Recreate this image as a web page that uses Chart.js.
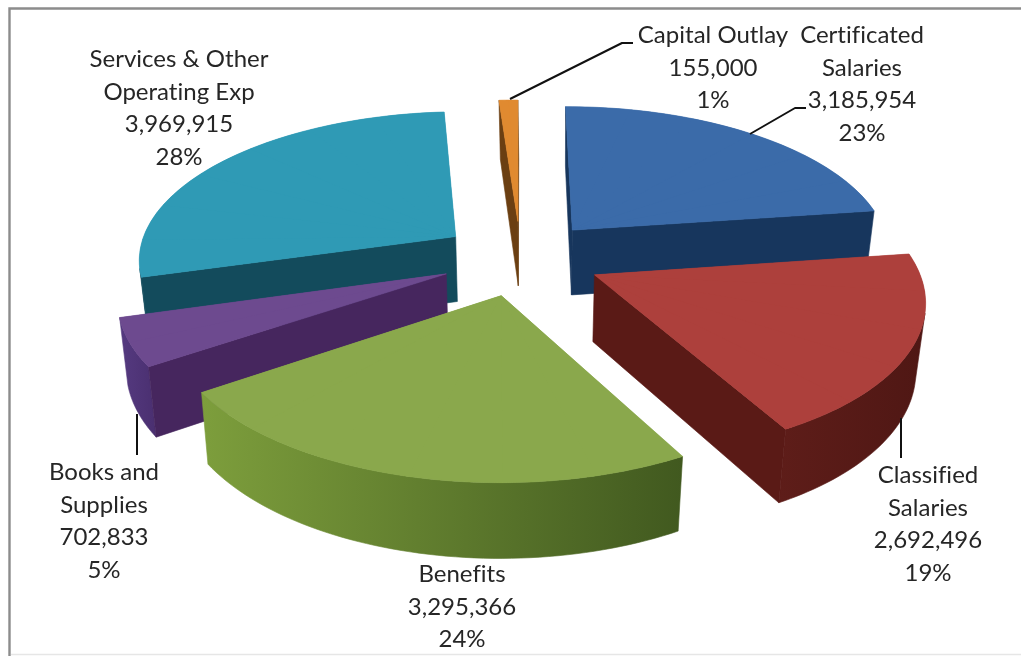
<!DOCTYPE html>
<html><head><meta charset="utf-8">
<style>html,body{margin:0;padding:0;background:#fff}canvas{display:block}</style>
<script src="https://cdn.jsdelivr.net/npm/chart.js@4/dist/chart.umd.js"></script>
</head><body><canvas id="c" width="1021" height="656"></canvas>
<script>
// ---- data ----
const categories = ['Certificated|Salaries','Classified|Salaries','Benefits','Books and|Supplies','Services & Other|Operating Exp','Capital Outlay'];
const values = [3185954,2692496,3295366,702833,3969915,155000];
// ---- style ----
const topColors = ['#3b6ba9','#ad403c','#8aa84c','#6d4a8f','#2f9ab5','#e08a30'];
const cutColors = ['#17365d','#5a1a16','#4c6a24','#46265e','#134b5c','#6b3f12'];
const rimStops = [['#17365d','#17365d'],['#5e1d19','#4f1714'],['#7d9e3c','#41591f'],['#553a80','#4a2f70'],['#134b5c','#134b5c'],['#6b3f12','#6b3f12']];
const drawOrder = [5,4,0,3,1,2];
// ---- camera: plane -> screen homographies of the top and bottom faces, explosion ----
const topView = [318.2677,-73.901,520.7073,-0.3444,111.5582,257.7336,-0.0023,-0.1428];
const botView = [311.7593,-74.519,520.8804,0.4067,108.7132,323.6536,-0.001,-0.1427];
const explode = 0.2535;
const wedgeSteps = 8;
// ---- annotation layout ----
const labelCenters = [[862,43],[928,483],[462,582],[104,480],[179,67],[713,43]];
const lineGap = 32.7;
const leaders = [[[750,134],[795,108],[806,108]],[[901,418],[901,458]],[],[[137,414],[137,455]],[],[[510,99],[622,43],[633,43]]];

const total = values.reduce((a,b)=>a+b,0);
function project(h,x,y){const w=h[6]*x+h[7]*y+1;return[(h[0]*x+h[1]*y+h[2])/w,(h[3]*x+h[4]*y+h[5])/w];}
function solveAffine(s,d){
  const ux=s[1][0]-s[0][0],uy=s[1][1]-s[0][1],vx=s[2][0]-s[0][0],vy=s[2][1]-s[0][1];
  const det=ux*vy-uy*vx;
  const px=d[1][0]-d[0][0],py=d[1][1]-d[0][1],qx=d[2][0]-d[0][0],qy=d[2][1]-d[0][1];
  const a=(px*vy-qx*uy)/det,c=(qx*ux-px*vx)/det,b=(py*vy-qy*uy)/det,e=(qy*ux-py*vx)/det;
  return [a,b,c,e,d[0][0]-a*s[0][0]-c*s[0][1],d[0][1]-b*s[0][0]-e*s[0][1]];
}
function poly(ctx,pts,fill){ctx.beginPath();pts.forEach((p,i)=>i?ctx.lineTo(p[0],p[1]):ctx.moveTo(p[0],p[1]));ctx.closePath();ctx.fillStyle=fill;ctx.fill();ctx.strokeStyle=fill;ctx.lineWidth=0.6;ctx.stroke();}
function area(q){let s=0;q.forEach((p,j)=>{const r=q[(j+1)%q.length];s+=p[0]*r[1]-r[0]*p[1];});return s;}

const pie3d = {
  id:'pie3d',
  beforeDatasetsDraw(chart){
    const ctx=chart.ctx, meta=chart.getDatasetMeta(0);
    drawOrder.forEach(i=>{
      const el=meta.data[i];
      const R=el.outerRadius, cx=el.x, cy=el.y;
      const a0=el.startAngle, a1=el.endAngle, mid=(a0+a1)/2;
      const ex=explode*Math.cos(mid), ey=explode*Math.sin(mid);
      const T=t=>project(topView,ex+Math.cos(t),ey+Math.sin(t));
      const B=t=>project(botView,ex+Math.cos(t),ey+Math.sin(t));
      const apexT=project(topView,ex,ey), apexB=project(botView,ex,ey);
      // outer rim: only the runs that face the viewer, each as one shape
      const N=60,tops=[],bots=[];
      for(let k=0;k<=N;k++){const t=a0+(a1-a0)*k/N;tops.push(T(t));bots.push(B(t));}
      const xs=tops.concat(bots).map(p=>p[0]);
      const g=ctx.createLinearGradient(Math.min(...xs),0,Math.max(...xs),0);
      g.addColorStop(0,rimStops[i][0]);g.addColorStop(1,rimStops[i][1]);
      let run=-1;
      for(let k=0;k<=N;k++){
        const facing=k<N&&area([tops[k],tops[k+1],bots[k+1],bots[k]])<0;
        if(facing&&run<0)run=k;
        if(!facing&&run>=0){
          poly(ctx,tops.slice(run,k+1).concat(bots.slice(run,k+1).reverse()),g);
          run=-1;
        }
      }
      // cut faces, only those facing the viewer
      const qs=[[apexT,tops[0],bots[0],apexB],[apexT,tops[N],bots[N],apexB]];
      if(area(qs[0])<0)poly(ctx,qs[0],cutColors[i]);
      if(area(qs[1])>0)poly(ctx,qs[1],cutColors[i]);
      // base under the top face hides hairline seams between the arc pieces
      poly(ctx,[apexT].concat(tops),topColors[i]);
      // top face: the library's own arc element, in short pieces, each under its own view transform
      const steps=Math.max(2,Math.ceil(wedgeSteps*(a1-a0)/Math.PI*1.5));
      for(let k=0;k<steps;k++){
        const s0=a0+(a1-a0)*k/steps, s1=a0+(a1-a0)*(k+1)/steps;
        const m=solveAffine(
          [[cx,cy],[cx+R*Math.cos(s0),cy+R*Math.sin(s0)],[cx+R*Math.cos(s1),cy+R*Math.sin(s1)]],
          [apexT,T(s0),T(s1)]);
        ctx.save();
        ctx.transform(m[0],m[1],m[2],m[3],m[4],m[5]);
        const arc=Object.create(el);
        const lap=k<steps-1?0.012:0;
        arc.startAngle=s0;arc.endAngle=s1+lap;arc.circumference=s1+lap-s0;
        arc.options=Object.assign({},el.options,{offset:0,borderWidth:0,backgroundColor:topColors[i]});
        arc.getProps=function(names){const o={};names.forEach(n=>o[n]=this[n]);return o;};
        arc.draw(ctx);
        ctx.restore();
      }
    });
    return false;
  },
  afterDraw(chart){
    const ctx=chart.ctx;
    ctx.save();
    // frame
    ctx.strokeStyle='#8c8c8c';ctx.lineWidth=2.4;
    ctx.beginPath();ctx.moveTo(9.5,656);ctx.lineTo(9.5,8.5);ctx.lineTo(1021,8.5);ctx.stroke();
    ctx.strokeStyle='#e6e6e6';ctx.lineWidth=1.5;
    ctx.beginPath();ctx.moveTo(11,654.5);ctx.lineTo(1021,654.5);ctx.stroke();
    // leaders
    ctx.strokeStyle='#111';ctx.lineWidth=2;ctx.lineJoin='round';
    leaders.forEach(l=>{if(!l.length)return;ctx.beginPath();l.forEach((p,j)=>j?ctx.lineTo(p[0],p[1]):ctx.moveTo(p[0],p[1]));ctx.stroke();});
    // labels
    ctx.fillStyle='#262626';ctx.font='24px Lato';ctx.textAlign='center';ctx.textBaseline='alphabetic';
    ctx.letterSpacing='0.01px';
    categories.forEach((name,i)=>{
      const lines=name.split('|').concat([values[i].toLocaleString('en-US'),Math.round(values[i]/total*100)+'%']);
      lines.forEach((s,j)=>ctx.fillText(s,labelCenters[i][0],labelCenters[i][1]+j*lineGap));
    });
    ctx.restore();
  }
};

new Chart(document.getElementById('c'),{
  type:'pie',
  data:{labels:categories.map(s=>s.replace('|',' ')),datasets:[{data:values,backgroundColor:topColors,borderWidth:0}]},
  options:{responsive:false,animation:false,devicePixelRatio:1,
    layout:{padding:0},
    plugins:{legend:{display:false},tooltip:{enabled:false},title:{display:false}}},
  plugins:[pie3d]
});
</script></body></html>
